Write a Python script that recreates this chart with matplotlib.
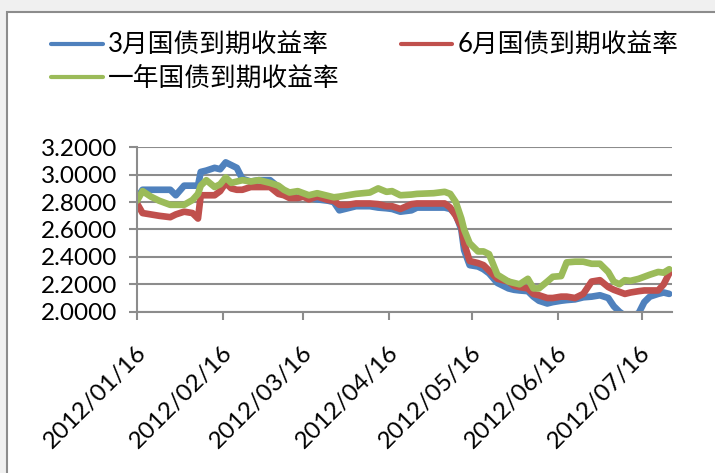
import numpy as np
import matplotlib
matplotlib.use("Agg")
import matplotlib.pyplot as plt
import matplotlib.dates as mdates
import matplotlib.transforms as mtransforms
from matplotlib.patches import Rectangle

plt.rcParams['font.family'] = ['Lato', 'Noto Sans CJK SC', 'DejaVu Sans']

# trading dates
dates = ['2012-01-16', '2012-01-18', '2012-01-21', '2012-01-24', '2012-01-28',
         '2012-01-30', '2012-02-02', '2012-02-05', '2012-02-07', '2012-02-08',
         '2012-02-10', '2012-02-13', '2012-02-15', '2012-02-17', '2012-02-19',
         '2012-02-21', '2012-02-23', '2012-02-26', '2012-02-29', '2012-03-04',
         '2012-03-07', '2012-03-09', '2012-03-11', '2012-03-14', '2012-03-16',
         '2012-03-18', '2012-03-21', '2012-03-25', '2012-03-27', '2012-03-29',
         '2012-04-01', '2012-04-04', '2012-04-09', '2012-04-12', '2012-04-15',
         '2012-04-17', '2012-04-20', '2012-04-24', '2012-04-26', '2012-05-02',
         '2012-05-06', '2012-05-08', '2012-05-10', '2012-05-12', '2012-05-13',
         '2012-05-15', '2012-05-18', '2012-05-20', '2012-05-22', '2012-05-25',
         '2012-05-29', '2012-05-31', '2012-06-02', '2012-06-05', '2012-06-07',
         '2012-06-09', '2012-06-12', '2012-06-14', '2012-06-17', '2012-06-19',
         '2012-06-22', '2012-06-25', '2012-06-28', '2012-07-01', '2012-07-04',
         '2012-07-06', '2012-07-08', '2012-07-10', '2012-07-12', '2012-07-15',
         '2012-07-17', '2012-07-19', '2012-07-22', '2012-07-24', '2012-07-26']

yield_3m = [2.83, 2.89, 2.89, 2.89, 2.89, 2.85, 2.92, 2.92, 2.92, 3.02,
            3.03, 3.05, 3.04, 3.09, 3.07, 3.05, 2.97, 2.95, 2.96, 2.96,
            2.91, 2.88, 2.85, 2.83, 2.845, 2.83, 2.82, 2.81, 2.80, 2.74,
            2.755, 2.77, 2.77, 2.76, 2.755, 2.75, 2.73, 2.74, 2.76, 2.76,
            2.76, 2.75, 2.71, 2.60, 2.45, 2.34, 2.33, 2.31, 2.28, 2.21,
            2.17, 2.16, 2.155, 2.15, 2.11, 2.08, 2.06, 2.07, 2.08, 2.085,
            2.09, 2.105, 2.11, 2.12, 2.10, 2.04, 2.00, 1.97, 1.96, 1.99,
            2.07, 2.11, 2.13, 2.14, 2.13]

yield_6m = [2.79, 2.72, 2.71, 2.70, 2.69, 2.71, 2.73, 2.72, 2.68, 2.85,
            2.85, 2.85, 2.88, 2.94, 2.90, 2.89, 2.89, 2.91, 2.91, 2.91,
            2.86, 2.85, 2.83, 2.83, 2.84, 2.82, 2.84, 2.815, 2.81, 2.78,
            2.78, 2.79, 2.79, 2.785, 2.77, 2.77, 2.75, 2.785, 2.79, 2.79,
            2.79, 2.76, 2.70, 2.62, 2.50, 2.37, 2.355, 2.34, 2.30, 2.24,
            2.22, 2.19, 2.18, 2.17, 2.13, 2.12, 2.10, 2.10, 2.11, 2.11,
            2.10, 2.13, 2.22, 2.23, 2.18, 2.16, 2.145, 2.13, 2.14, 2.15,
            2.155, 2.155, 2.155, 2.20, 2.28]

yield_1y = [2.81, 2.88, 2.84, 2.81, 2.78, 2.78, 2.78, 2.815, 2.86, 2.92,
            2.96, 2.91, 2.93, 2.98, 2.94, 2.95, 2.96, 2.95, 2.96, 2.94,
            2.92, 2.89, 2.87, 2.88, 2.865, 2.85, 2.865, 2.845, 2.835, 2.84,
            2.85, 2.86, 2.87, 2.90, 2.875, 2.88, 2.85, 2.855, 2.86, 2.865,
            2.875, 2.86, 2.80, 2.68, 2.60, 2.50, 2.44, 2.44, 2.42, 2.27,
            2.22, 2.21, 2.20, 2.24, 2.17, 2.17, 2.22, 2.255, 2.26, 2.36,
            2.365, 2.365, 2.35, 2.35, 2.29, 2.22, 2.20, 2.23, 2.225, 2.24,
            2.255, 2.27, 2.29, 2.285, 2.31]

labels = ['3月国债到期收益率', '6月国债到期收益率', '一年国债到期收益率']
colors = ['#4F81BD', '#C0504D', '#9BBB59']
tick_dates = ['2012-01-16', '2012-02-16', '2012-03-16', '2012-04-16',
              '2012-05-16', '2012-06-16', '2012-07-16']

x = np.array(dates, dtype='datetime64[D]')

fig = plt.figure(figsize=(7.15, 4.73), dpi=100)
fig.patch.set_facecolor('#F0F0F0')
# white chart area with grey border
fig.patches.append(Rectangle((7 / 715, -0.1), 1.2, 1.1 - 12 / 473,
                             transform=fig.transFigure, facecolor='white',
                             edgecolor='#8C8C8C', lw=1.5, zorder=-1))

ax = fig.add_axes([137 / 715, 1 - 311.7 / 473, (672 - 137) / 715, (311.7 - 147.3) / 473])
ax.set_facecolor('white')

lines = []
for vals, lab, c in zip([yield_3m, yield_6m, yield_1y], labels, colors):
    ln, = ax.plot(x, vals, color=c, lw=4.8, label=lab,
                  solid_joinstyle='round', solid_capstyle='round')
    lines.append(ln)

ax.set_ylim(2.0, 3.2)
ax.set_yticks(np.arange(2.0, 3.21, 0.2))
ax.yaxis.set_major_formatter(matplotlib.ticker.FormatStrFormatter('%.4f'))
ax.set_xlim(np.datetime64('2012-01-16'), np.datetime64('2012-07-27'))
ax.set_xticks(np.array(tick_dates, dtype='datetime64[D]'))
ax.xaxis.set_major_formatter(mdates.DateFormatter('%Y/%m/%d'))

ax.grid(axis='y', color='#8C8C8C', lw=1.5)
ax.set_axisbelow(True)
for s in ['top', 'right']:
    ax.spines[s].set_visible(False)
for s in ['left', 'bottom']:
    ax.spines[s].set_color('#8C8C8C')
    ax.spines[s].set_linewidth(1.5)

ax.tick_params(axis='both', colors='#8C8C8C', width=1.5, length=6,
               labelcolor='black', labelsize=17.5)
ax.tick_params(axis='y', pad=8)
ax.tick_params(axis='x', pad=21)
offset = mtransforms.ScaledTranslation(4 / 72, 0, fig.dpi_scale_trans)
for t in ax.get_xticklabels():
    t.set_rotation(45)
    t.set_rotation_mode('anchor')
    t.set_ha('right')
    t.set_va('center')
    t.set_transform(t.get_transform() + offset)

fig.legend([lines[0], lines[2], lines[1]], [labels[0], labels[2], labels[1]],
           ncol=2, loc='upper left', bbox_to_anchor=(28 / 715, 1 - 10 / 473),
           frameon=False, fontsize=18.5, handlelength=2.0, handletextpad=0.2,
           columnspacing=2.4, labelspacing=0.3)
for lh in fig.legends[0].get_lines():
    lh.set_linewidth(3)

fig.savefig('out.png', dpi=100, facecolor=fig.get_facecolor())
